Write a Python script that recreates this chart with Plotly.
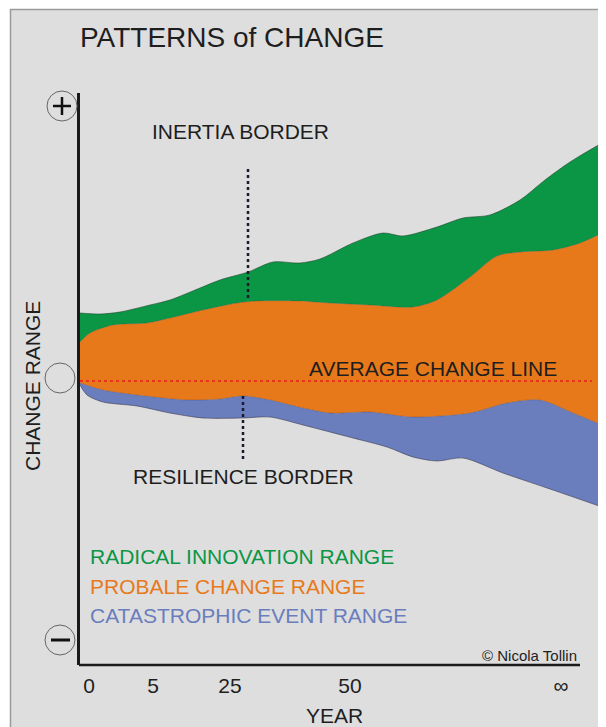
import plotly.graph_objects as go

# ---- data (x: time position along the axis, y: change relative to the average line) ----
green_top_x = [0, 20, 40, 70, 90, 120, 140, 168, 193, 220, 240, 273, 303, 323, 357, 383, 410, 440, 465, 490, 522]
green_top_y = [68, 67, 69, 76, 81, 93, 101, 109, 119, 118, 122, 138, 148, 145, 154, 163, 166, 181, 201, 219, 238]

orange_top_x = [0, 10, 33, 67, 90, 123, 157, 177, 220, 250, 290, 333, 357, 390, 417, 440, 473, 500, 522]
orange_top_y = [39, 48, 56, 58, 63, 71, 78, 80, 80, 78, 76, 74, 81, 104, 125, 129, 131, 138, 148]

blue_top_x = [0, 23, 57, 107, 140, 163, 190, 223, 250, 290, 333, 390, 427, 460, 493, 522]
blue_top_y = [-2, -9, -14, -19, -18, -15, -19, -27, -32, -31, -36, -32, -22, -19, -32, -44]

blue_bottom_x = [0, 7, 23, 57, 90, 123, 163, 190, 223, 250, 273, 307, 333, 357, 383, 423, 473, 522]
blue_bottom_y = [-4, -14, -21, -25, -32, -37, -37, -36, -44, -51, -57, -66, -76, -80, -77, -92, -109, -126]

average_x = [0, 512]
average_y = [0, 0]

inertia_x = [168, 168]
inertia_y = [83, 214]
resilience_x = [163, 163]
resilience_y = [-15, -81]

tick_positions = [9, 73, 150, 270, 481]
tick_labels = ["0", "5", "25", "50", "∞"]

legend_labels = ["RADICAL INNOVATION RANGE", "PROBALE CHANGE RANGE", "CATASTROPHIC EVENT RANGE"]

# ---- styles ----
GREEN = "#0a9645"
ORANGE = "#e8791b"
BLUE = "#6a7dbd"
BG = "#dedede"
FONT = "Liberation Sans, Arial, sans-serif"

# the page has an 8px body margin; the figure is sized so the whole view fits
OFF = 8
W, H = 606 - OFF, 727 - OFF
ML, MR, MT, MB = 80 - OFF, 4, 93 - OFF, 62
PW, PH = W - ML - MR, H - MT - MB


def px(xp):
    """reference-image x pixel -> paper coordinate"""
    return (xp - 80) / PW


def py(yp):
    """reference-image y pixel -> paper coordinate"""
    return (665 - yp) / PH


fig = go.Figure()

fig.add_trace(go.Scatter(x=blue_bottom_x, y=blue_bottom_y, mode="lines",
                         line=dict(color="rgba(50,50,70,0.7)", width=0.8, shape="spline", smoothing=0.8),
                         hoverinfo="skip", showlegend=False))
fig.add_trace(go.Scatter(x=blue_top_x, y=blue_top_y, mode="lines", fill="tonexty", fillcolor=BLUE,
                         line=dict(color="rgba(60,60,90,0.5)", width=0.6, shape="spline", smoothing=0.8),
                         hoverinfo="skip", showlegend=False))
fig.add_trace(go.Scatter(x=orange_top_x, y=orange_top_y, mode="lines", fill="tonexty", fillcolor=ORANGE,
                         line=dict(color="rgba(70,60,40,0.5)", width=0.6, shape="spline", smoothing=0.8),
                         hoverinfo="skip", showlegend=False))
fig.add_trace(go.Scatter(x=green_top_x, y=green_top_y, mode="lines", fill="tonexty", fillcolor=GREEN,
                         line=dict(color="rgba(30,60,40,0.7)", width=0.8, shape="spline", smoothing=0.8),
                         hoverinfo="skip", showlegend=False))

fig.add_trace(go.Scatter(x=average_x, y=average_y, mode="lines",
                         line=dict(color="#e8321e", width=2, dash="dot"),
                         hoverinfo="skip", showlegend=False))
fig.add_trace(go.Scatter(x=inertia_x, y=inertia_y, mode="lines",
                         line=dict(color="#1a1a2a", width=2.5, dash="dot"),
                         hoverinfo="skip", showlegend=False))
fig.add_trace(go.Scatter(x=resilience_x, y=resilience_y, mode="lines",
                         line=dict(color="#1a1a2a", width=2.5, dash="dot"),
                         hoverinfo="skip", showlegend=False))

shapes = [
    # white page strips and the frame of the grey panel
    dict(type="rect", xref="paper", yref="paper", x0=px(0), x1=px(620), y0=py(-5), y1=py(9),
         fillcolor="white", line=dict(width=0), layer="above"),
    dict(type="rect", xref="paper", yref="paper", x0=px(-5), x1=px(10), y0=py(-5), y1=py(740),
         fillcolor="white", line=dict(width=0), layer="above"),
    dict(type="line", xref="paper", yref="paper", x0=px(10), x1=px(620), y0=py(9.5), y1=py(9.5),
         line=dict(color="#9a9a9a", width=1.5), layer="above"),
    dict(type="line", xref="paper", yref="paper", x0=px(10.5), x1=px(10.5), y0=py(9), y1=py(740),
         line=dict(color="#9a9a9a", width=1.5), layer="above"),
    # x axis line
    dict(type="line", xref="paper", yref="paper", x0=px(79), x1=px(580), y0=py(665), y1=py(665),
         line=dict(color="#1a1a1a", width=2.5), layer="above"),
    # circles
    dict(type="circle", xref="paper", yref="paper", x0=px(47), x1=px(77), y0=py(91), y1=py(121),
         line=dict(color="#666", width=1), layer="above"),
    dict(type="line", xref="paper", yref="paper", x0=px(53), x1=px(71), y0=py(106), y1=py(106),
         line=dict(color="#111", width=2.5), layer="above"),
    dict(type="line", xref="paper", yref="paper", x0=px(62), x1=px(62), y0=py(97), y1=py(115),
         line=dict(color="#111", width=2.5), layer="above"),
    dict(type="circle", xref="paper", yref="paper", x0=px(45), x1=px(75), y0=py(363), y1=py(393),
         line=dict(color="#666", width=1), layer="above"),
    dict(type="circle", xref="paper", yref="paper", x0=px(45), x1=px(75), y0=py(625), y1=py(655),
         line=dict(color="#666", width=1), layer="above"),
    dict(type="line", xref="paper", yref="paper", x0=px(51), x1=px(70), y0=py(640), y1=py(640),
         line=dict(color="#111", width=3), layer="above"),
]

TXT = "#1e1e1e"
annotations = [
    dict(text="PATTERNS of CHANGE", xref="paper", yref="paper", x=px(78), y=py(38),
         xanchor="left", yanchor="middle", showarrow=False, font=dict(size=28, color=TXT, family=FONT)),
    dict(text="INERTIA BORDER", xref="paper", yref="paper", x=px(240), y=py(131),
         xanchor="center", yanchor="middle", showarrow=False, font=dict(size=21, color=TXT, family=FONT)),
    dict(text="AVERAGE CHANGE LINE", xref="paper", yref="paper", x=px(433), y=py(368),
         xanchor="center", yanchor="middle", showarrow=False, font=dict(size=21, color=TXT, family=FONT)),
    dict(text="RESILIENCE BORDER", xref="paper", yref="paper", x=px(243), y=py(476),
         xanchor="center", yanchor="middle", showarrow=False, font=dict(size=21, color=TXT, family=FONT)),
    dict(text=legend_labels[0], xref="paper", yref="paper", x=px(88), y=py(556),
         xanchor="left", yanchor="middle", showarrow=False, font=dict(size=21, color=GREEN, family=FONT)),
    dict(text=legend_labels[1], xref="paper", yref="paper", x=px(88), y=py(586),
         xanchor="left", yanchor="middle", showarrow=False, font=dict(size=21, color=ORANGE, family=FONT)),
    dict(text=legend_labels[2], xref="paper", yref="paper", x=px(88), y=py(615),
         xanchor="left", yanchor="middle", showarrow=False, font=dict(size=21, color=BLUE, family=FONT)),
    dict(text="© Nicola Tollin", xref="paper", yref="paper", x=px(579), y=py(655),
         xanchor="right", yanchor="middle", showarrow=False, font=dict(size=15, color=TXT, family=FONT)),
    dict(text="YEAR", xref="paper", yref="paper", x=px(334), y=py(715),
         xanchor="center", yanchor="middle", showarrow=False, font=dict(size=21, color=TXT, family=FONT)),
    dict(text="CHANGE RANGE", xref="paper", yref="paper", x=px(32), y=py(386), textangle=-90,
         xanchor="center", yanchor="middle", showarrow=False, font=dict(size=21, color=TXT, family=FONT)),
]

fig.update_layout(
    width=W, height=H,
    margin=dict(l=ML, r=MR, t=MT, b=MB, pad=0),
    paper_bgcolor=BG, plot_bgcolor=BG,
    font=dict(family=FONT, color=TXT),
    shapes=shapes, annotations=annotations,
    showlegend=False,
    xaxis=dict(range=[0, PW], showgrid=False, zeroline=False, showline=False,
               tickmode="array", tickvals=tick_positions, ticktext=tick_labels,
               ticks="", tickfont=dict(size=21, color=TXT, family=FONT),
               ticklabelstandoff=6, fixedrange=True),
    yaxis=dict(range=[-284, 288], showgrid=False, zeroline=False, showline=True,
               linecolor="#1a1a1a", linewidth=2.5, showticklabels=False, ticks="",
               fixedrange=True),
)

fig.write_html("out.html")
